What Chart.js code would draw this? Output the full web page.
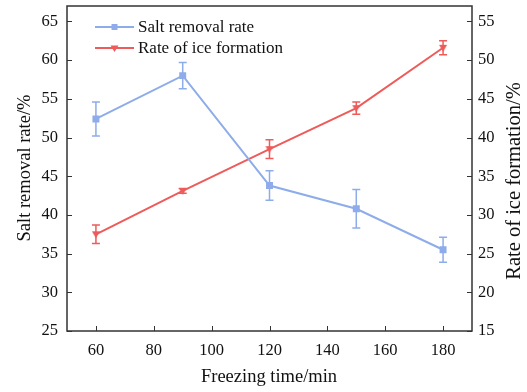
<!DOCTYPE html>
<html>
<head>
<meta charset="utf-8">
<script src="https://cdn.jsdelivr.net/npm/chart.js@4.4.1/dist/chart.umd.min.js"></script>
<style>
  html, body { margin: 0; padding: 0; background: #fff; }
  #wrap { width: 527px; height: 392px; position: relative; }
</style>
</head>
<body>
<div id="wrap"><canvas id="c"></canvas></div>
<script>
// 데이터
const times = [60, 90, 120, 150, 180];
const saltRemoval = [52.4, 58.0, 43.8, 40.8, 35.5];
const saltErr = [2.2, 1.7, 1.9, 2.5, 1.6];
const iceRate = [27.5, 33.1, 38.5, 43.8, 51.6];
const iceErr = [1.2, 0.3, 1.2, 0.8, 0.9];
const xTicks = [60, 80, 100, 120, 140, 160, 180];
const leftTicks = [25, 30, 35, 40, 45, 50, 55, 60, 65];
const rightTicks = [15, 20, 25, 30, 35, 40, 45, 50, 55];

const blue = '#8eacea';
const red = '#ee5b5b';
const axisColor = '#333';
const textColor = '#111';
const serif = "'Liberation Serif', 'DejaVu Serif', serif";

const pts = (ys) => times.map((t, i) => ({ x: t, y: ys[i] }));

// 오차 막대, 테두리, 안쪽 눈금, 축 제목, 범례
const extras = {
    id: 'extras',
    afterDatasetsDraw(chart) {
        const ctx = chart.ctx;
        const a = chart.chartArea;
        const xs = chart.scales.x;
        const errs = [saltErr, iceErr];
        const vals = [saltRemoval, iceRate];
        chart.data.datasets.forEach((ds, k) => {
            const ys = chart.scales[ds.yAxisID];
            ctx.save();
            ctx.strokeStyle = ds.borderColor;
            ctx.lineWidth = 1.5;
            times.forEach((t, i) => {
                const px = xs.getPixelForValue(t);
                const top = ys.getPixelForValue(vals[k][i] + errs[k][i]);
                const bot = ys.getPixelForValue(vals[k][i] - errs[k][i]);
                ctx.beginPath();
                ctx.moveTo(px, top); ctx.lineTo(px, bot);
                ctx.moveTo(px - 4, top); ctx.lineTo(px + 4, top);
                ctx.moveTo(px - 4, bot); ctx.lineTo(px + 4, bot);
                ctx.stroke();
            });
            ctx.restore();
        });

        ctx.save();
        ctx.strokeStyle = axisColor;
        ctx.lineWidth = 1.5;
        ctx.strokeRect(a.left, a.top, a.right - a.left, a.bottom - a.top);
        ctx.lineWidth = 1;
        ctx.beginPath();
        xTicks.forEach(v => {
            const p = Math.round(xs.getPixelForValue(v)) + 0.5;
            ctx.moveTo(p, a.bottom); ctx.lineTo(p, a.bottom - 5);
        });
        leftTicks.forEach(v => {
            const p = Math.round(chart.scales.y.getPixelForValue(v)) + 0.5;
            ctx.moveTo(a.left, p); ctx.lineTo(a.left + 5, p);
        });
        rightTicks.forEach(v => {
            const p = Math.round(chart.scales.y2.getPixelForValue(v)) + 0.5;
            ctx.moveTo(a.right, p); ctx.lineTo(a.right - 5, p);
        });
        ctx.stroke();

        // 축 제목
        ctx.fillStyle = textColor;
        ctx.textAlign = 'center';
        ctx.textBaseline = 'middle';
        ctx.font = '18.5px ' + serif;
        ctx.fillText('Freezing time/min', 269, 377);
        ctx.save();
        ctx.translate(25, 168);
        ctx.rotate(-Math.PI / 2);
        ctx.fillText('Salt removal rate/%', 0, 0);
        ctx.restore();
        ctx.save();
        ctx.font = '20.5px ' + serif;
        ctx.translate(515, 181);
        ctx.rotate(-Math.PI / 2);
        ctx.fillText('Rate of ice formation/%', 0, 0);
        ctx.restore();

        // 범례
        ctx.font = '17px ' + serif;
        ctx.textAlign = 'left';
        const items = [
            { label: 'Salt removal rate', color: blue, style: 'rect', y: 27 },
            { label: 'Rate of ice formation', color: red, style: 'triangle', y: 48 }
        ];
        items.forEach(it => {
            ctx.strokeStyle = it.color;
            ctx.lineWidth = 2;
            ctx.beginPath();
            ctx.moveTo(95, it.y); ctx.lineTo(134, it.y);
            ctx.stroke();
            ctx.fillStyle = it.color;
            ctx.beginPath();
            if (it.style === 'rect') {
                ctx.rect(111.5, it.y - 3, 6, 6);
            } else {
                ctx.moveTo(110.5, it.y - 2.5); ctx.lineTo(118.5, it.y - 2.5); ctx.lineTo(114.5, it.y + 4);
                ctx.closePath();
            }
            ctx.fill();
            ctx.fillStyle = textColor;
            ctx.fillText(it.label, 138, it.y + 1);
        });
        ctx.restore();
    }
};

// 아래로 향한 삼각형 마커
const downTri = document.createElement('canvas');
downTri.width = 10; downTri.height = 10;
(function () {
    const c = downTri.getContext('2d');
    c.fillStyle = red;
    c.beginPath();
    c.moveTo(1, 2); c.lineTo(9, 2); c.lineTo(5, 9);
    c.closePath();
    c.fill();
})();

const tickFont = { family: serif, size: 16.5 };

new Chart(document.getElementById('c'), {
    type: 'line',
    data: {
        datasets: [{
            label: 'Salt removal rate',
            data: pts(saltRemoval),
            yAxisID: 'y',
            borderColor: blue,
            backgroundColor: blue,
            borderWidth: 2,
            pointStyle: 'rect',
            pointRadius: 3.5,
            tension: 0
        }, {
            label: 'Rate of ice formation',
            data: pts(iceRate),
            yAxisID: 'y2',
            borderColor: red,
            backgroundColor: red,
            borderWidth: 2,
            pointStyle: downTri,
            tension: 0
        }]
    },
    options: {
        responsive: true,
        maintainAspectRatio: false,
        animation: false,
        layout: { padding: { top: 5, left: 0, right: 0, bottom: 0 } },
        plugins: { legend: { display: false }, tooltip: { enabled: false } },
        scales: {
            x: {
                type: 'linear',
                min: 50, max: 190,
                grid: { display: false, tickLength: 0 },
                border: { display: false },
                afterBuildTicks: s => { s.ticks = xTicks.map(v => ({ value: v })); },
                afterFit: s => { s.height = 61; s.paddingLeft = 0; s.paddingRight = 0; },
                ticks: { font: tickFont, color: textColor, padding: 10, maxRotation: 0 }
            },
            y: {
                position: 'left',
                min: 25, max: 67,
                grid: { display: false, tickLength: 0 },
                border: { display: false },
                afterBuildTicks: s => { s.ticks = leftTicks.map(v => ({ value: v })); },
                afterFit: s => { s.width = 67; s.paddingTop = 0; s.paddingBottom = 0; },
                ticks: { font: tickFont, color: textColor, padding: 9 }
            },
            y2: {
                position: 'right',
                min: 15, max: 57,
                grid: { display: false, tickLength: 0 },
                border: { display: false },
                afterBuildTicks: s => { s.ticks = rightTicks.map(v => ({ value: v })); },
                afterFit: s => { s.width = 55; s.paddingTop = 0; s.paddingBottom = 0; },
                ticks: { font: tickFont, color: textColor, padding: 6 }
            }
        }
    },
    plugins: [extras]
});
</script>
</body>
</html>
